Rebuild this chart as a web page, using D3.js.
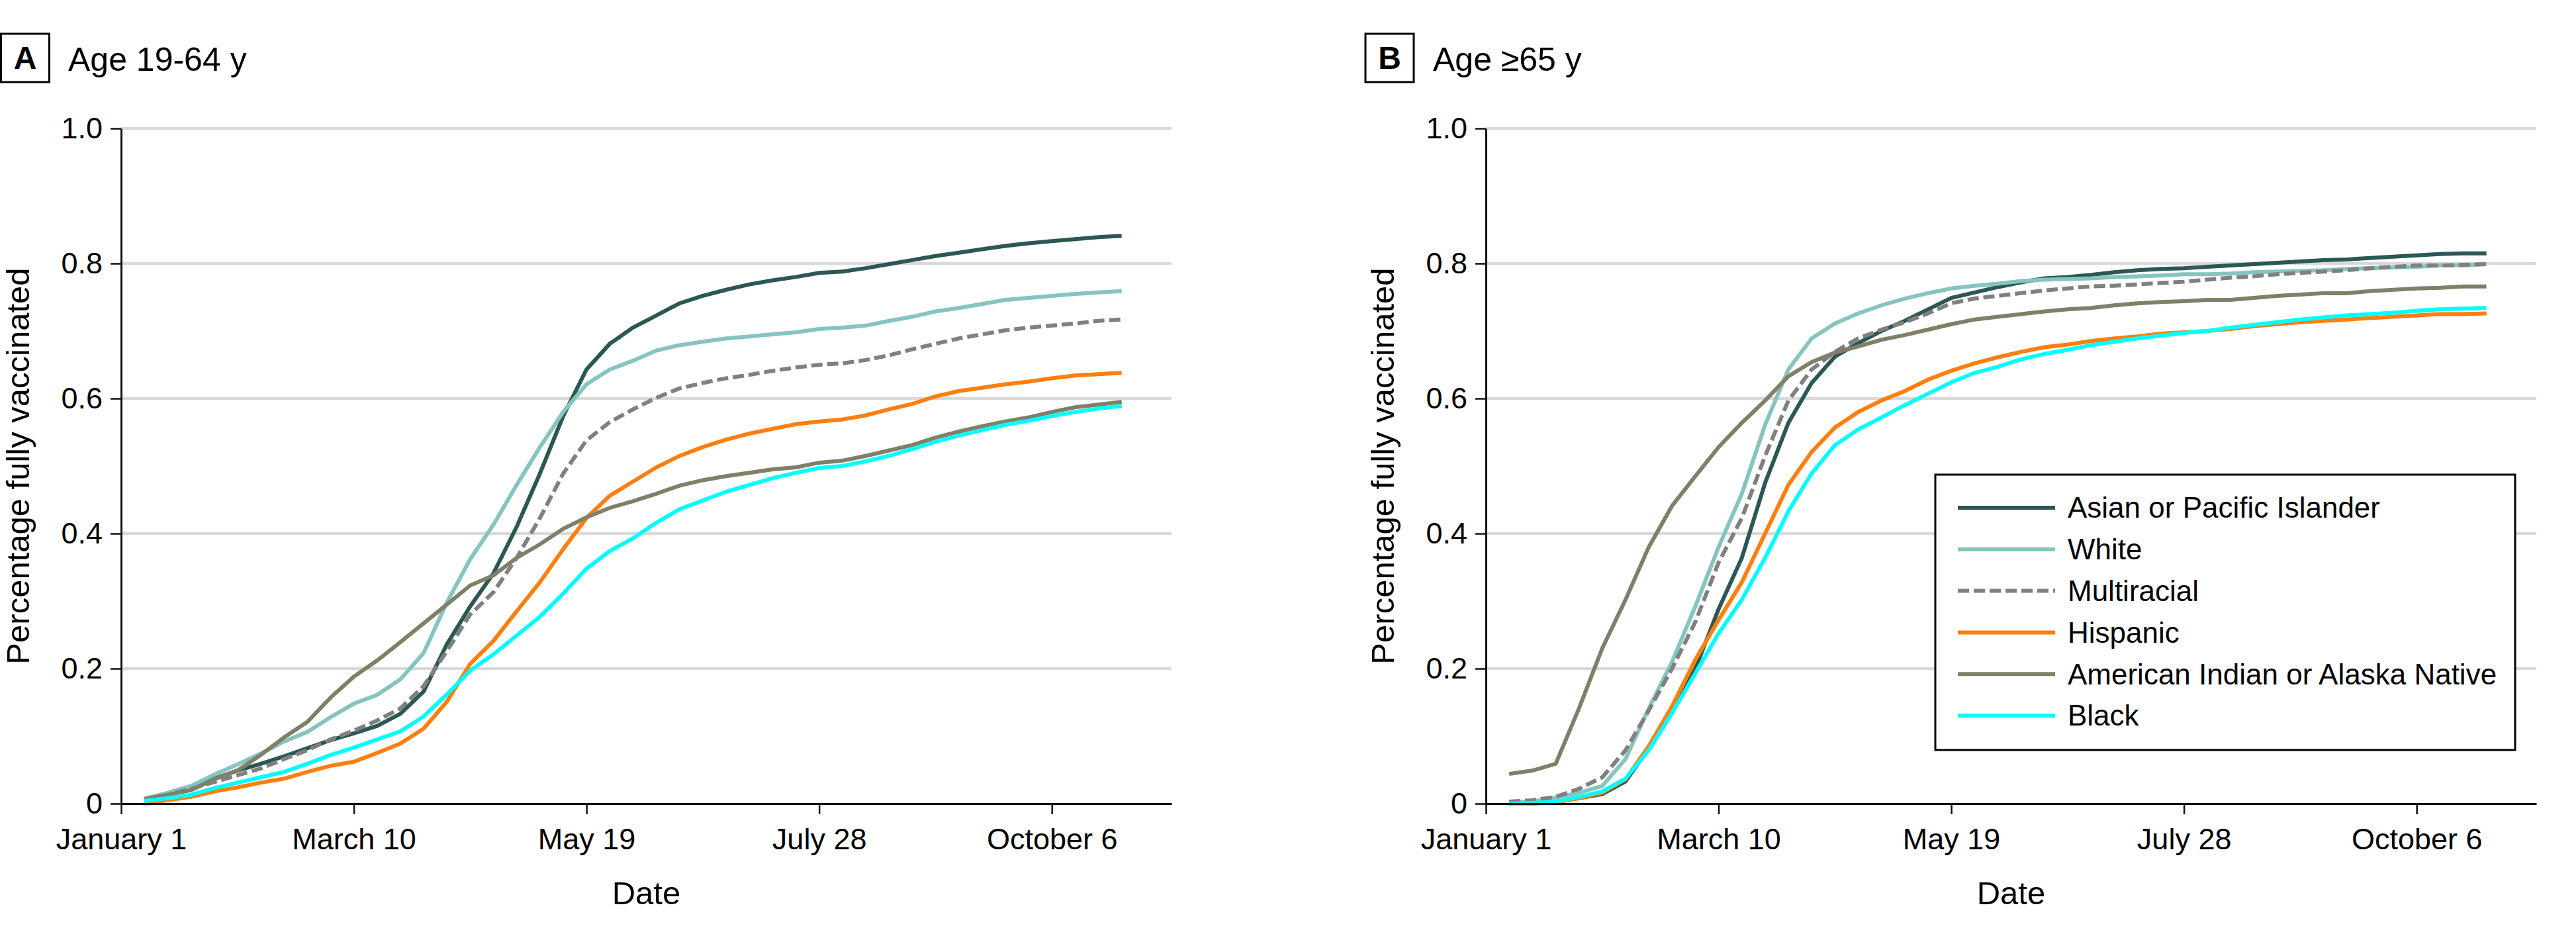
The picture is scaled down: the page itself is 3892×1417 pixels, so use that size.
<!DOCTYPE html>
<html>
<head>
<meta charset="utf-8">
<script src="https://cdn.jsdelivr.net/npm/d3@7"></script>
<style>
  html, body { margin: 0; padding: 0; background: #fff; }
  svg { display: block; }
  text { font-family: "Liberation Sans", Arial, sans-serif; fill: #000; }
</style>
</head>
<body>
<svg id="chart" width="3892" height="1417"></svg>
<script>
// ---- Data ----
const days = [7,14,21,28,35,42,49,56,63,70,77,84,91,98,105,112,119,126,133,140,147,154,161,168,175,182,189,196,203,210,217,224,231,238,245,252,259,266,273,280,287,294,301];

const tickDays = [0, 70, 140, 210, 280];
const tickLabels = ["January 1", "March 10", "May 19", "July 28", "October 6"];
const yTicks = [0, 0.2, 0.4, 0.6, 0.8, 1.0];

const seriesNames = ["Asian or Pacific Islander", "White", "Multiracial", "Hispanic", "American Indian or Alaska Native", "Black"];
const seriesColors = ["#2b5755", "#86c4c0", "#808080", "#ff7f0e", "#808069", "#00ffff"];
const seriesDash = [null, null, "17,7", null, null, null];

// Panel A: Age 19-64 y
const asianA = [.007,.015,.023,.037,.049,.059,.070,.082,.094,.104,.115,.133,.166,.236,.292,
  .341,.410,.489,.574,.643,.681,.705,.723,.741,.752,.761,.769,.775,.780,.786,
  .788,.793,.799,.805,.811,.816,.821,.826,.830,.833,.836,.839,.841];
const whiteA = [.007,.016,.026,.043,.058,.074,.092,.106,.128,.148,.161,.184,.223,.298,.362,
  .413,.472,.528,.580,.621,.643,.656,.671,.679,.684,.689,.692,.695,.698,.703,
  .705,.708,.715,.721,.729,.734,.740,.746,.749,.752,.755,.757,.759];
const multiA = [.005,.013,.022,.032,.042,.052,.066,.079,.095,.108,.123,.141,.174,.226,.280,
  .313,.364,.423,.489,.538,.565,.584,.601,.615,.623,.630,.635,.641,.646,.650,
  .652,.657,.664,.673,.681,.689,.695,.701,.705,.708,.711,.715,.717];
const hispA = [.000,.005,.010,.018,.024,.031,.037,.047,.056,.062,.075,.089,.111,.151,.207,
  .241,.285,.328,.377,.423,.456,.477,.498,.515,.528,.539,.548,.555,.562,.566,
  .569,.575,.584,.592,.603,.611,.616,.621,.625,.630,.634,.636,.638];
const aianA = [.007,.013,.020,.036,.049,.072,.098,.121,.157,.188,.212,.239,.267,.295,.323,
  .338,.364,.384,.407,.424,.438,.448,.459,.471,.479,.485,.490,.495,.498,.505,
  .508,.515,.523,.531,.542,.551,.559,.566,.572,.580,.587,.591,.595];
const blackA = [.004,.008,.013,.023,.031,.039,.047,.059,.072,.083,.095,.107,.129,.162,.197,
  .221,.249,.277,.311,.348,.374,.393,.416,.436,.449,.462,.472,.482,.490,.497,
  .500,.507,.515,.525,.536,.545,.553,.561,.567,.574,.580,.585,.589];

// Panel B: Age >=65 y
const asianB = [.000,.001,.003,.008,.014,.033,.082,.138,.200,.288,.364,.475,.564,.623,.662,
  .682,.700,.715,.732,.749,.757,.765,.772,.778,.780,.783,.787,.790,.792,.793,
  .795,.797,.799,.801,.803,.805,.806,.808,.810,.812,.814,.815,.815];
const whiteB = [.002,.003,.009,.016,.026,.066,.141,.210,.292,.380,.459,.561,.643,.689,.711,
  .726,.738,.748,.756,.763,.767,.770,.774,.776,.777,.778,.780,.781,.782,.784,
  .784,.785,.787,.788,.789,.790,.792,.793,.794,.795,.797,.797,.799];
const multiB = [.003,.005,.010,.022,.039,.079,.138,.200,.269,.357,.423,.515,.597,.643,.669,
  .689,.702,.713,.726,.741,.748,.752,.756,.760,.763,.766,.767,.769,.771,.773,
  .776,.779,.781,.784,.786,.788,.790,.793,.795,.797,.797,.798,.799];
const hispB = [.000,.000,.002,.008,.016,.036,.085,.144,.213,.272,.328,.400,.472,.521,.557,
  .580,.597,.611,.628,.641,.652,.661,.669,.676,.680,.685,.689,.692,.696,.698,
  .700,.703,.707,.710,.713,.715,.717,.719,.721,.723,.725,.725,.726];
const aianB = [.044,.049,.059,.141,.230,.302,.380,.441,.485,.528,.564,.597,.633,.654,.668,
  .677,.687,.694,.702,.710,.717,.721,.725,.729,.732,.734,.738,.741,.743,.744,
  .746,.746,.749,.752,.754,.756,.756,.759,.761,.763,.764,.766,.766];
const blackB = [.000,.001,.003,.010,.018,.037,.079,.134,.193,.252,.302,.364,.433,.489,.531,
  .554,.572,.590,.607,.624,.638,.647,.658,.666,.672,.679,.684,.689,.693,.697,
  .700,.705,.709,.713,.717,.720,.723,.725,.727,.730,.732,.733,.734];

const panels = [
  { letter: "A", title: "Age 19-64 y", x0: 183, boxX: 1.5, titleX: 103,
    series: [asianA, whiteA, multiA, hispA, aianA, blackA], legend: false },
  { letter: "B", title: "Age \u226565 y", x0: 2245, boxX: 2063, titleX: 2165,
    series: [asianB, whiteB, multiB, hispB, aianB, blackB], legend: true }
];

// ---- Drawing ----
const svg = d3.select("#chart");
const yTop = 194, yBottom = 1214, plotW = 1587;

panels.forEach(p => {
  const x = d3.scaleLinear().domain([0, 316]).range([p.x0, p.x0 + plotW]);
  const y = d3.scaleLinear().domain([0, 1]).range([yBottom, yTop]);
  const g = svg.append("g");

  // panel letter box & title
  g.append("rect").attr("x", p.boxX).attr("y", 51).attr("width", 73).attr("height", 73)
    .attr("fill", "none").attr("stroke", "#000").attr("stroke-width", 3);
  g.append("text").attr("x", p.boxX + 36.5).attr("y", 104).attr("text-anchor", "middle")
    .attr("font-size", 48).attr("font-weight", "bold").text(p.letter);
  g.append("text").attr("x", p.titleX).attr("y", 107).attr("font-size", 50).text(p.title);

  // gridlines
  g.append("g").selectAll("line").data(yTicks.filter(d => d > 0)).join("line")
    .attr("x1", x(0)).attr("x2", x(316)).attr("y1", d => y(d)).attr("y2", d => y(d))
    .attr("stroke", "#d9d9d9").attr("stroke-width", 4);

  // series lines
  const line = d3.line().x((d, i) => x(days[i])).y(d => y(d));
  p.series.forEach((s, i) => {
    g.append("path").datum(s).attr("d", line).attr("fill", "none")
      .attr("stroke", seriesColors[i]).attr("stroke-width", 6)
      .attr("stroke-dasharray", seriesDash[i]);
  });

  // axes
  const yAxis = d3.axisLeft(y).tickValues(yTicks)
    .tickFormat(d => d === 0 ? "0" : d.toFixed(1))
    .tickSize(16).tickSizeOuter(0).tickPadding(12);
  const ya = g.append("g").attr("transform", `translate(${p.x0},0)`).call(yAxis);
  const xAxis = d3.axisBottom(x).tickValues(tickDays)
    .tickFormat((d, i) => tickLabels[i])
    .tickSize(16).tickSizeOuter(0).tickPadding(21);
  const xa = g.append("g").attr("transform", `translate(0,${yBottom})`).call(xAxis);
  [ya, xa].forEach(a => {
    a.select(".domain").attr("stroke", "#111").attr("stroke-width", 3);
    a.selectAll(".tick line").attr("stroke", "#111").attr("stroke-width", 2.5);
    a.selectAll(".tick text").attr("font-size", 45).attr("font-family", "Liberation Sans, Arial, sans-serif").attr("fill", "#000");
  });

  // axis titles
  g.append("text").attr("transform", `translate(${p.x0 - 139},${(yTop + yBottom) / 2}) rotate(-90)`)
    .attr("text-anchor", "middle").attr("font-size", 49).text("Percentage fully vaccinated");
  g.append("text").attr("x", (x(0) + x(316)) / 2).attr("y", 1366)
    .attr("text-anchor", "middle").attr("font-size", 49).text("Date");

  // legend
  if (p.legend) {
    const lg = g.append("g");
    lg.append("rect").attr("x", 2924).attr("y", 717).attr("width", 876).attr("height", 416)
      .attr("fill", "#fff").attr("stroke", "#000").attr("stroke-width", 3);
    seriesNames.forEach((name, i) => {
      const ry = 767 + i * 62.8;
      lg.append("line").attr("x1", 2958).attr("x2", 3105).attr("y1", ry).attr("y2", ry)
        .attr("stroke", seriesColors[i]).attr("stroke-width", 6)
        .attr("stroke-dasharray", seriesDash[i]);
      lg.append("text").attr("x", 3124).attr("y", ry).attr("dy", "0.35em")
        .attr("font-size", 44).text(name);
    });
  }
});
</script>
</body>
</html>
